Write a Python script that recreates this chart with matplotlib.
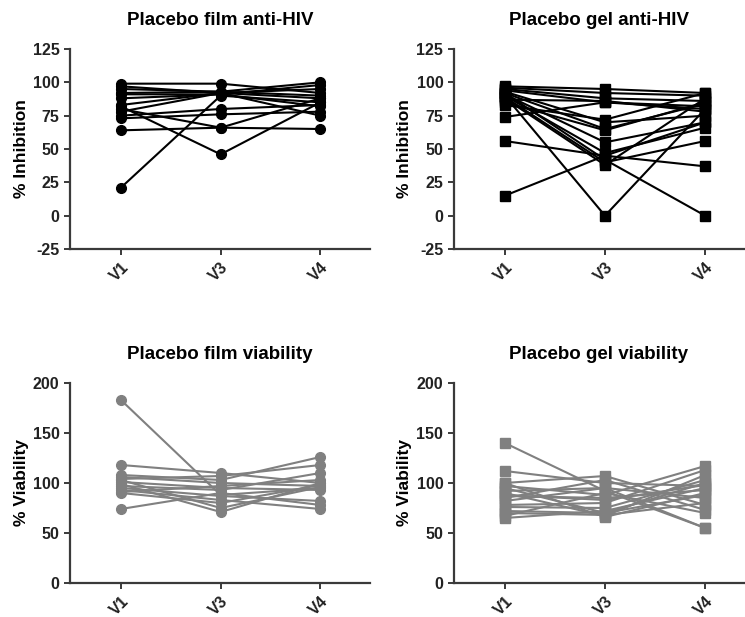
import matplotlib
matplotlib.use("Agg")
import matplotlib.pyplot as plt

plt.rcParams['font.family'] = ['Liberation Sans', 'DejaVu Sans']
plt.rcParams['font.weight'] = 'bold'
plt.rcParams['axes.unicode_minus'] = False

visits = ["V1", "V3", "V4"]

# Placebo film anti-HIV (% inhibition), one entry per subject
film_hiv_v1 = [99, 97, 92, 91, 82, 80, 78, 75, 73, 64, 21, 95, 88, 83]
film_hiv_v3 = [99, 92, 93, 91, 46, 66, 92, 80, 76, 66, 90, 93, 91, 92]
film_hiv_v4 = [92, 95, 90, 98, 85, 65, 88, 83, 78, 88, 85, 100, 82, 75]

# Placebo gel anti-HIV (% inhibition)
gel_hiv_v1 = [97, 96, 95, 94, 93, 92, 91, 90, 89, 88, 87, 85, 83, 74, 56, 15, 90, 92]
gel_hiv_v3 = [95, 92, 88, 85, 70, 65, 55, 47, 40, 38, 86, 64, 72, 85, 45, 45, 0, 42]
gel_hiv_v4 = [92, 90, 86, 80, 75, 84, 70, 66, 56, 88, 78, 85, 92, 82, 37, 70, 80, 0]

# Placebo film viability (%)
film_via_v1 = [183, 118, 108, 106, 104, 101, 99, 97, 95, 93, 91, 90, 74, 103]
film_via_v3 = [88, 110, 103, 100, 107, 95, 71, 93, 87, 83, 97, 80, 90, 75]
film_via_v4 = [95, 100, 126, 97, 118, 93, 100, 110, 82, 74, 103, 98, 78, 96]

# Placebo gel viability (%)
gel_via_v1 = [140, 112, 100, 97, 95, 92, 90, 87, 85, 78, 76, 72, 70, 67, 65, 82, 88, 100]
gel_via_v3 = [92, 100, 107, 88, 70, 95, 67, 85, 103, 80, 75, 70, 68, 90, 72, 95, 83, 66]
gel_via_v4 = [55, 97, 78, 117, 100, 85, 108, 93, 73, 113, 103, 88, 80, 70, 95, 55, 98, 90]

AXIS_COLOR = "#3a3a3a"
GREY = "#808080"


def draw_panel(ax, title, ylabel, v1, v3, v4, marker, color, ylim, yticks, xright):
    x = range(len(visits))
    for a, b, c in zip(v1, v3, v4):
        ax.plot(x, [a, b, c], color=color, lw=1.5, marker=marker,
                markersize=7, markerfacecolor=color, markeredgecolor=color)
    ax.set_xlim(-0.51, xright)
    ax.set_ylim(*ylim)
    ax.set_yticks(yticks)
    ax.set_xticks(list(x))
    ax.set_xticklabels(visits, rotation=45, ha='right', rotation_mode='anchor')
    ax.set_title(title, fontsize=13.5, fontweight='bold', pad=17)
    ax.set_ylabel(ylabel, fontsize=12.5, fontweight='bold', labelpad=3)
    for side in ['top', 'right']:
        ax.spines[side].set_visible(False)
    for side in ['left', 'bottom']:
        ax.spines[side].set_color(AXIS_COLOR)
        ax.spines[side].set_linewidth(1.6)
    ax.tick_params(direction='out', length=4, width=1.4, color=AXIS_COLOR,
                   labelsize=11.5, labelcolor="#222222")


fig = plt.figure(figsize=(7.45, 6.17), dpi=100)

ax1 = fig.add_axes([0.094, 0.5964, 0.403, 0.3242])
ax2 = fig.add_axes([0.609, 0.5964, 0.390, 0.3242])
ax3 = fig.add_axes([0.094, 0.0551, 0.403, 0.3242])
ax4 = fig.add_axes([0.609, 0.0551, 0.390, 0.3242])

draw_panel(ax1, "Placebo film anti-HIV", "% Inhibition", film_hiv_v1, film_hiv_v3,
           film_hiv_v4, 'o', 'black', (-25, 125), [-25, 0, 25, 50, 75, 100, 125], 2.5)
draw_panel(ax2, "Placebo gel anti-HIV", "% Inhibition", gel_hiv_v1, gel_hiv_v3,
           gel_hiv_v4, 's', 'black', (-25, 125), [-25, 0, 25, 50, 75, 100, 125], 2.39)
draw_panel(ax3, "Placebo film viability", "% Viability", film_via_v1, film_via_v3,
           film_via_v4, 'o', GREY, (0, 200), [0, 50, 100, 150, 200], 2.5)
draw_panel(ax4, "Placebo gel viability", "% Viability", gel_via_v1, gel_via_v3,
           gel_via_v4, 's', GREY, (0, 200), [0, 50, 100, 150, 200], 2.39)

fig.savefig("out.png", dpi=100)
